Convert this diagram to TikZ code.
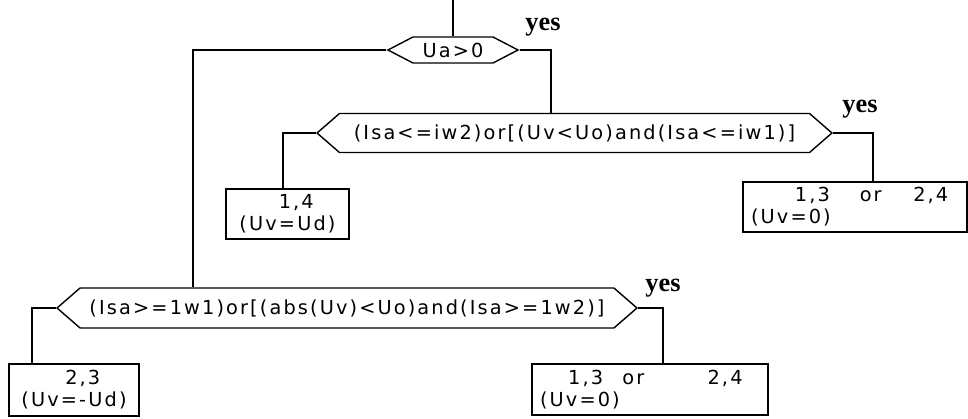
\documentclass[tikz,border=0pt]{standalone}
\usepackage{fontspec}
\usepackage{tikz}
\usetikzlibrary{shapes.symbols}
\newfontfamily\flowfont{DejaVu Sans}[LetterSpace=11]
\newfontfamily\yesfont{Liberation Serif}
\tikzstyle{test} = [signal, signal to=west and east, draw=black, line width=0.8pt, inner sep=0pt, font=\flowfont\fontsize{11}{12}\selectfont]
\tikzstyle{result} = [rectangle, draw=black, line width=0.8pt, inner xsep=0.16cm, inner ysep=0pt, minimum height=1cm, font=\flowfont\fontsize{11}{12.5}\selectfont]
\tikzstyle{yes} = [font=\yesfont\bfseries\fontsize{15}{17}\selectfont, inner sep=0pt]

\begin{document}
\begin{tikzpicture}[x=0.02cm, y=-0.02cm, line width=0.8pt]

        \useasboundingbox (0,0) rectangle (968,419);

        \node (cond0) [test, minimum width=2.6cm, minimum height=0.52cm, signal pointer angle=55] at (453,50) {Ua>0};
        \node (cond1) [test, minimum width=10.3cm, minimum height=0.78cm, signal pointer angle=82] at (574.5,133) {(Isa<=iw2)or[(Uv<Uo)and(Isa<=iw1)]};
        \node (cond2) [test, minimum width=11.6cm, minimum height=0.8cm, signal pointer angle=82] at (347,308) {(Isa>=1w1)or[(abs(Uv)<Uo)and(Isa>=1w2)]};

        \node (box14) [result, minimum width=2.46cm, align=center] at (287.5,214) {\hspace*{10pt}1,4\\(Uv=Ud)};
        \node (box13a) [result, text width=4.16cm, align=left] at (855,207) {\hspace*{25pt}1,3\hspace{17pt}or\hspace{18pt}2,4\\(Uv=0)};
        \node (box23) [result, minimum width=2.6cm, minimum height=1.04cm, align=center] at (74,390) {\hspace*{10pt}2,3\\(Uv=-Ud)};
        \node (box13b) [result, text width=4.4cm, minimum height=1.02cm, align=left] at (650,389.5) {\hspace*{16pt}1,3\hspace{11pt}or\hspace{36pt}2,4\\(Uv=0)};

        \node (yes0) [yes] at (543,27) {yes};
        \node (yes1) [yes] at (860,109) {yes};
        \node (yes2) [yes] at (663,288) {yes};

        \coordinate (entry) at (453,0);
        \coordinate (no0) at (193,50);
        \coordinate (go0) at (551,50);
        \coordinate (no1) at (283,133);
        \coordinate (go1) at (873,133);
        \coordinate (no2) at (32,308);
        \coordinate (go2) at (663,308);

        \draw (entry) -- (cond0.north);

        \draw (cond0.west) -- (no0) -- (no0 |- cond2.north);
        \draw (cond0.east) -- (go0) -- (go0 |- cond1.north);

        \draw (cond1.west) -- (no1) -- (no1 |- box14.north);
        \draw (cond1.east) -- (go1) -- (go1 |- box13a.north);

        \draw (cond2.west) -- (no2) -- (no2 |- box23.north);
        \draw (cond2.east) -- (go2) -- (go2 |- box13b.north);

    \end{tikzpicture}
\end{document}
